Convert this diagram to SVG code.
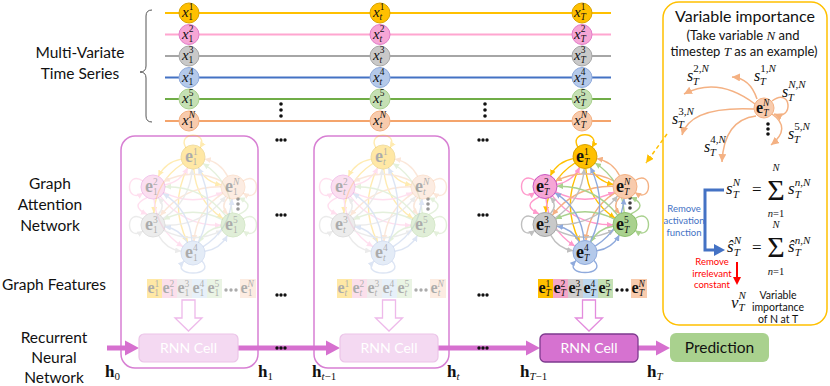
<svg xmlns="http://www.w3.org/2000/svg" xmlns:xlink="http://www.w3.org/1999/xlink" width="830" height="386" viewBox="0 0 830 386">
<style>
.t{font-family:Lato,"Liberation Sans",sans-serif;fill:#111}
.c{text-anchor:middle}
.mi{font-family:"Liberation Serif",serif;font-style:italic;fill:#111}
.mr{font-family:"Liberation Serif",serif;fill:#111}
.mb{font-family:"Liberation Serif",serif;font-weight:bold;fill:#111}
.up{font-style:normal}
.sp{font-size:9.5px}
.sq{font-size:11px}
.e{fill:none;stroke-width:1.4}
.eA{stroke:#FFC000;marker-end:url(#mA)}
.eB{stroke:#FF99CC;marker-end:url(#mB)}
.eC{stroke:#BFBFBF;marker-end:url(#mC)}
.eD{stroke:#8FAADC;marker-end:url(#mD)}
.eE{stroke:#A9D18E;marker-end:url(#mE)}
.eN{stroke:#F4B183;marker-end:url(#mN)}
.ts{fill:none;stroke-width:2}
.hol{fill:#fff;stroke:#E38CDD;stroke-width:1.3}
.mag{fill:#D670CF}
.frame{fill:none;stroke:#D77FD3;stroke-width:1.5}
.rnnf{fill:#F4D9F2;stroke:#EBC4E8;stroke-width:1.2}
.rnnw{font-family:Lato,"Liberation Sans",sans-serif;font-size:14px;fill:#fff;text-anchor:middle}
.dot{fill:#111}
</style>
<defs>
<marker id="mA" viewBox="0 0 6 6" refX="6" refY="3" markerWidth="6" markerHeight="6" markerUnits="userSpaceOnUse" orient="auto"><path d="M0,0L6,3L0,6z" fill="#FFC000"/></marker>
<marker id="mB" viewBox="0 0 6 6" refX="6" refY="3" markerWidth="6" markerHeight="6" markerUnits="userSpaceOnUse" orient="auto"><path d="M0,0L6,3L0,6z" fill="#FF99CC"/></marker>
<marker id="mC" viewBox="0 0 6 6" refX="6" refY="3" markerWidth="6" markerHeight="6" markerUnits="userSpaceOnUse" orient="auto"><path d="M0,0L6,3L0,6z" fill="#BFBFBF"/></marker>
<marker id="mD" viewBox="0 0 6 6" refX="6" refY="3" markerWidth="6" markerHeight="6" markerUnits="userSpaceOnUse" orient="auto"><path d="M0,0L6,3L0,6z" fill="#8FAADC"/></marker>
<marker id="mE" viewBox="0 0 6 6" refX="6" refY="3" markerWidth="6" markerHeight="6" markerUnits="userSpaceOnUse" orient="auto"><path d="M0,0L6,3L0,6z" fill="#A9D18E"/></marker>
<marker id="mN" viewBox="0 0 6 6" refX="6" refY="3" markerWidth="6" markerHeight="6" markerUnits="userSpaceOnUse" orient="auto"><path d="M0,0L6,3L0,6z" fill="#F4B183"/></marker>
<marker id="mV" viewBox="0 0 8 8" refX="8" refY="4" markerWidth="8" markerHeight="8" markerUnits="userSpaceOnUse" orient="auto"><path d="M0,0L8,4L0,8z" fill="#F4B183"/></marker>
<marker id="mY" viewBox="0 0 8 8" refX="8" refY="4" markerWidth="8" markerHeight="8" markerUnits="userSpaceOnUse" orient="auto"><path d="M0,0L8,4L0,8z" fill="#FFC000"/></marker>
<g id="gat">
<path class="e eA" d="M-11.8,-45.9Q-27.5,-43 -34.6,-28.7"/>
<path class="e eA" d="M5.4,-37.3Q12.5,-23 28.2,-20.1"/>
<path class="e eA" d="M-10.1,-41.5Q-37,-24 -39.2,8"/>
<path class="e eA" d="M0.8,-36Q3,-4 29.9,13.5"/>
<path class="e eA" d="M-5.4,-37.3Q-24,0 -5.4,37.3"/>
<path class="e eA" d="M-7,-57C-17,-74 17,-74 7,-57"/>
<path class="e eB" d="M-28.2,-20.1Q-12.5,-23 -5.4,-37.3"/>
<path class="e eB" d="M-29.3,-12.6Q0,2 29.3,-12.6"/>
<path class="e eB" d="M-46,-7.3Q-64,1 -46,9.3"/>
<path class="e eB" d="M-32.6,-8.6Q-9.5,21 28,20.3"/>
<path class="e eB" d="M-39,-6Q-36.5,25 -10.2,41.6"/>
<path class="e eB" d="M-50,-24C-68,-36 -68,0 -50,-12"/>
<path class="e eN" d="M34.6,-28.7Q27.5,-43 11.8,-45.9"/>
<path class="e eN" d="M29.3,-23.4Q0,-38 -29.3,-23.4"/>
<path class="e eN" d="M28,-18.3Q-9.5,-19 -32.6,10.6"/>
<path class="e eN" d="M34.6,-7.3Q27,1 34.6,9.3"/>
<path class="e eN" d="M29.9,-11.6Q3.5,5 1,36"/>
<path class="e eN" d="M50,-24C68,-36 68,0 50,-12"/>
<path class="e eC" d="M-29.9,13.5Q-3,-4 -0.8,-36"/>
<path class="e eC" d="M-34.6,9.3Q-27,1 -34.6,-7.3"/>
<path class="e eC" d="M-28,20.3Q9.5,21 32.6,-8.6"/>
<path class="e eC" d="M-29.3,25.4Q0,40 29.3,25.4"/>
<path class="e eC" d="M-34.3,30.6Q-27,44 -11.9,46.3"/>
<path class="e eC" d="M-50,14C-68,2 -68,38 -50,26"/>
<path class="e eE" d="M39.2,8Q37,-24 10.1,-41.5"/>
<path class="e eE" d="M32.6,10.6Q9.5,-19 -28,-18.3"/>
<path class="e eE" d="M46,9.3Q64,1 46,-7.3"/>
<path class="e eE" d="M29.3,14.6Q0,0 -29.3,14.6"/>
<path class="e eE" d="M28.1,21.8Q13,24 5.7,37.5"/>
<path class="e eE" d="M50,14C68,2 68,38 50,26"/>
<path class="e eD" d="M5.4,37.3Q24,0 5.4,-37.3"/>
<path class="e eD" d="M-1,36Q-3.5,5 -29.9,-11.6"/>
<path class="e eD" d="M10.2,41.6Q36.5,25 39,-6"/>
<path class="e eD" d="M-5.7,37.5Q-13,24 -28.1,21.8"/>
<path class="e eD" d="M11.9,46.3Q27,44 34.3,30.6"/>
<path class="e eD" d="M9,56C24,72 -24,72 -9,56"/>
</g>
</defs>
<rect width="830" height="386" fill="#fff"/>

<g id="frames">
<rect class="frame" x="121" y="136" width="137" height="232" rx="14"/>
<rect class="frame" x="314" y="136" width="135" height="232" rx="14"/>
<rect x="663" y="2" width="164" height="323" rx="16" fill="#fff" stroke="#FFC000" stroke-width="1.5"/>
<path d="M152,10Q146,10 146,16V66Q146,72 140,72Q146,72 146,78V116Q146,122 152,122" fill="none" stroke="#555" stroke-width="1"/>
</g>

<g id="connectors">
<line class="ts" x1="165" y1="13" x2="611" y2="13" stroke="#FFC000"/>
<line class="ts" x1="165" y1="34.5" x2="611" y2="34.5" stroke="#FFA6D0"/>
<line class="ts" x1="165" y1="56" x2="611" y2="56" stroke="#A6A6A6"/>
<line class="ts" x1="165" y1="77.5" x2="611" y2="77.5" stroke="#4472C4"/>
<line class="ts" x1="165" y1="99" x2="611" y2="99" stroke="#70AD47"/>
<line class="ts" x1="165" y1="121" x2="611" y2="121" stroke="#F4A46C"/>
<use href="#gat" x="193" y="205" opacity="0.3"/>
<use href="#gat" x="383" y="205" opacity="0.3"/>
<use href="#gat" x="585" y="204.5"/>
<g id="rnn-arrows">
<rect x="107" y="345.5" width="20" height="5" class="mag"/><polygon points="125,340.5 139,348 125,355.5" class="mag"/>
<rect x="238" y="345.5" width="89" height="5" class="mag"/><polygon points="326,340.5 340,348 326,355.5" class="mag"/>
<rect x="438" y="345.5" width="89" height="5" class="mag"/><polygon points="526,340.5 540,348 526,355.5" class="mag"/>
<rect x="638" y="345.5" width="19" height="5" class="mag"/><polygon points="656,340.5 670,348 656,355.5" class="mag"/>
</g>
<g id="hollow-arrows">
<path class="hol" opacity="0.6" d="M182,300H195V318H202L188.5,331L175,318H182Z"/>
<path class="hol" opacity="0.6" d="M382.5,300H395.5V318H402.5L389,331L375.5,318H382.5Z"/>
<path class="hol" d="M582.5,300H595.5V318H602.5L589,331L575.5,318H582.5Z"/>
</g>
<path d="M667,134L646,163" fill="none" stroke="#FFC000" stroke-width="1.5" stroke-dasharray="4,3" marker-end="url(#mY)"/>
<g id="vi-arrows" fill="none" stroke="#F4B183" stroke-width="1.5" marker-end="url(#mV)">
<path d="M757,99Q750,78 732,77"/>
<path d="M755,104Q718,76 684,94"/>
<path d="M754,109Q690,106 682,135"/>
<path d="M756,116Q724,120 722,162"/>
<path d="M772,114Q792,128 771,145"/>
<path d="M772,101C792,86 794,122 774,114"/>
</g>
<path d="M724,190H705V250H715" fill="none" stroke="#4472C4" stroke-width="3"/>
<polygon points="714,244 725,250 714,256" fill="#4472C4"/>
<line x1="737" y1="262" x2="737" y2="278" stroke="#FF0000" stroke-width="2"/>
<polygon points="733,277 737,285 741,277" fill="#FF0000"/>
</g>

<g id="ts-nodes">
<g id="x11"><circle cx="189" cy="13" r="10" fill="#FFC000" stroke="#D9A300"/><text class="mi" x="182" y="17" font-size="15">x<tspan class="sp up" dy="-7">1</tspan><tspan class="sp up" dx="-4.8" dy="10">1</tspan></text></g>
<g id="x21"><circle cx="189" cy="34.5" r="10" fill="#F6A6D6" stroke="#E27BC8"/><text class="mi" x="182" y="38.5" font-size="15">x<tspan class="sp up" dy="-7">2</tspan><tspan class="sp up" dx="-4.8" dy="10">1</tspan></text></g>
<g id="x31"><circle cx="189" cy="56" r="10" fill="#C9C9C9" stroke="#A6A6A6"/><text class="mi" x="182" y="60" font-size="15">x<tspan class="sp up" dy="-7">3</tspan><tspan class="sp up" dx="-4.8" dy="10">1</tspan></text></g>
<g id="x41"><circle cx="189" cy="77.5" r="10" fill="#B4C9EA" stroke="#8FAADC"/><text class="mi" x="182" y="81.5" font-size="15">x<tspan class="sp up" dy="-7">4</tspan><tspan class="sp up" dx="-4.8" dy="10">1</tspan></text></g>
<g id="x51"><circle cx="189" cy="99" r="10" fill="#C5E0B4" stroke="#A9D18E"/><text class="mi" x="182" y="103" font-size="15">x<tspan class="sp up" dy="-7">5</tspan><tspan class="sp up" dx="-4.8" dy="10">1</tspan></text></g>
<g id="xN1"><circle cx="189" cy="121" r="10" fill="#F8CBAD" stroke="#F4B183"/><text class="mi" x="182" y="125" font-size="15">x<tspan class="sp" dy="-7">N</tspan><tspan class="sp up" dx="-6.3" dy="10">1</tspan></text></g>

<g id="x1t"><circle cx="380" cy="13" r="10" fill="#FFC000" stroke="#D9A300"/><text class="mi" x="373" y="17" font-size="15">x<tspan class="sp up" dy="-7">1</tspan><tspan class="sp" dx="-4.8" dy="10">t</tspan></text></g>
<g id="x2t"><circle cx="380" cy="34.5" r="10" fill="#F6A6D6" stroke="#E27BC8"/><text class="mi" x="373" y="38.5" font-size="15">x<tspan class="sp up" dy="-7">2</tspan><tspan class="sp" dx="-4.8" dy="10">t</tspan></text></g>
<g id="x3t"><circle cx="380" cy="56" r="10" fill="#C9C9C9" stroke="#A6A6A6"/><text class="mi" x="373" y="60" font-size="15">x<tspan class="sp up" dy="-7">3</tspan><tspan class="sp" dx="-4.8" dy="10">t</tspan></text></g>
<g id="x4t"><circle cx="380" cy="77.5" r="10" fill="#B4C9EA" stroke="#8FAADC"/><text class="mi" x="373" y="81.5" font-size="15">x<tspan class="sp up" dy="-7">4</tspan><tspan class="sp" dx="-4.8" dy="10">t</tspan></text></g>
<g id="x5t"><circle cx="380" cy="99" r="10" fill="#C5E0B4" stroke="#A9D18E"/><text class="mi" x="373" y="103" font-size="15">x<tspan class="sp up" dy="-7">5</tspan><tspan class="sp" dx="-4.8" dy="10">t</tspan></text></g>
<g id="xNt"><circle cx="380" cy="121" r="10" fill="#F8CBAD" stroke="#F4B183"/><text class="mi" x="373" y="125" font-size="15">x<tspan class="sp" dy="-7">N</tspan><tspan class="sp" dx="-6.3" dy="10">t</tspan></text></g>

<g id="x1T"><circle cx="582" cy="13" r="10" fill="#FFC000" stroke="#D9A300"/><text class="mi" x="574" y="17" font-size="15">x<tspan class="sp up" dy="-7">1</tspan><tspan class="sp" dx="-4.8" dy="10">T</tspan></text></g>
<g id="x2T"><circle cx="582" cy="34.5" r="10" fill="#F6A6D6" stroke="#E27BC8"/><text class="mi" x="574" y="38.5" font-size="15">x<tspan class="sp up" dy="-7">2</tspan><tspan class="sp" dx="-4.8" dy="10">T</tspan></text></g>
<g id="x3T"><circle cx="582" cy="56" r="10" fill="#C9C9C9" stroke="#A6A6A6"/><text class="mi" x="574" y="60" font-size="15">x<tspan class="sp up" dy="-7">3</tspan><tspan class="sp" dx="-4.8" dy="10">T</tspan></text></g>
<g id="x4T"><circle cx="582" cy="77.5" r="10" fill="#B4C9EA" stroke="#8FAADC"/><text class="mi" x="574" y="81.5" font-size="15">x<tspan class="sp up" dy="-7">4</tspan><tspan class="sp" dx="-4.8" dy="10">T</tspan></text></g>
<g id="x5T"><circle cx="582" cy="99" r="10" fill="#C5E0B4" stroke="#A9D18E"/><text class="mi" x="574" y="103" font-size="15">x<tspan class="sp up" dy="-7">5</tspan><tspan class="sp" dx="-4.8" dy="10">T</tspan></text></g>
<g id="xNT"><circle cx="582" cy="121" r="10" fill="#F8CBAD" stroke="#F4B183"/><text class="mi" x="574" y="125" font-size="15">x<tspan class="sp" dy="-7">N</tspan><tspan class="sp" dx="-6.3" dy="10">T</tspan></text></g>
</g>

<g id="dots">
<circle class="dot" cx="281" cy="104" r="1.8"/><circle class="dot" cx="281" cy="110" r="1.8"/><circle class="dot" cx="281" cy="116" r="1.8"/>
<circle class="dot" cx="485" cy="104" r="1.8"/><circle class="dot" cx="485" cy="110" r="1.8"/><circle class="dot" cx="485" cy="116" r="1.8"/>
<circle class="dot" cx="277" cy="140" r="1.7"/><circle class="dot" cx="281" cy="140" r="1.7"/><circle class="dot" cx="285" cy="140" r="1.7"/>
<circle class="dot" cx="277" cy="215" r="1.7"/><circle class="dot" cx="281" cy="215" r="1.7"/><circle class="dot" cx="285" cy="215" r="1.7"/>
<circle class="dot" cx="277" cy="295" r="1.7"/><circle class="dot" cx="281" cy="295" r="1.7"/><circle class="dot" cx="285" cy="295" r="1.7"/>
<circle class="dot" cx="277" cy="348" r="1.7"/><circle class="dot" cx="281" cy="348" r="1.7"/><circle class="dot" cx="285" cy="348" r="1.7"/>
<circle class="dot" cx="479" cy="140" r="1.7"/><circle class="dot" cx="483" cy="140" r="1.7"/><circle class="dot" cx="487" cy="140" r="1.7"/>
<circle class="dot" cx="479" cy="215" r="1.7"/><circle class="dot" cx="483" cy="215" r="1.7"/><circle class="dot" cx="487" cy="215" r="1.7"/>
<circle class="dot" cx="479" cy="295" r="1.7"/><circle class="dot" cx="483" cy="295" r="1.7"/><circle class="dot" cx="487" cy="295" r="1.7"/>
<circle class="dot" cx="479" cy="348" r="1.7"/><circle class="dot" cx="483" cy="348" r="1.7"/><circle class="dot" cx="487" cy="348" r="1.7"/>
<g fill="#999"><circle cx="238" cy="199" r="1.8"/><circle cx="238" cy="204" r="1.8"/><circle cx="238" cy="209" r="1.8"/>
<circle cx="428" cy="199" r="1.8"/><circle cx="428" cy="204" r="1.8"/><circle cx="428" cy="209" r="1.8"/></g>
<g fill="#404040"><circle cx="630" cy="198" r="1.8"/><circle cx="630" cy="203" r="1.8"/><circle cx="630" cy="208" r="1.8"/></g>
</g>

<g id="gat1" opacity="0.35">
<g id="g1-1"><circle cx="193" cy="157" r="12" fill="#FFC000" stroke="#D9A300"/><text class="mb" x="185" y="162" font-size="18">e<tspan class="sp" font-weight="normal" dy="-7">1</tspan><tspan class="sp" font-weight="normal" dx="-4.8" dy="10">1</tspan></text></g>
<g id="g1-2"><circle cx="153" cy="187" r="12" fill="#F6A6D6" stroke="#D95FC8"/><text class="mb" x="145" y="192" font-size="18">e<tspan class="sp" font-weight="normal" dy="-7">2</tspan><tspan class="sp" font-weight="normal" dx="-4.8" dy="10">1</tspan></text></g>
<g id="g1-N"><circle cx="233" cy="187" r="12" fill="#F8CBAD" stroke="#F4B183"/><text class="mb" x="225" y="192" font-size="18">e<tspan class="sp mi" font-weight="normal" dy="-7">N</tspan><tspan class="sp" font-weight="normal" dx="-6.3" dy="10">1</tspan></text></g>
<g id="g1-3"><circle cx="153" cy="225" r="12" fill="#C9C9C9" stroke="#A6A6A6"/><text class="mb" x="145" y="230" font-size="18">e<tspan class="sp" font-weight="normal" dy="-7">3</tspan><tspan class="sp" font-weight="normal" dx="-4.8" dy="10">1</tspan></text></g>
<g id="g1-5"><circle cx="233" cy="225" r="12" fill="#A9D18E" stroke="#8CBF6C"/><text class="mb" x="225" y="230" font-size="18">e<tspan class="sp" font-weight="normal" dy="-7">5</tspan><tspan class="sp" font-weight="normal" dx="-4.8" dy="10">1</tspan></text></g>
<g id="g1-4"><circle cx="193" cy="253" r="12" fill="#B4C9EA" stroke="#8FAADC"/><text class="mb" x="185" y="258" font-size="18">e<tspan class="sp" font-weight="normal" dy="-7">4</tspan><tspan class="sp" font-weight="normal" dx="-4.8" dy="10">1</tspan></text></g>
</g>

<g id="gat2" opacity="0.35">
<g id="g2-1"><circle cx="383" cy="157" r="12" fill="#FFC000" stroke="#D9A300"/><text class="mb" x="375" y="162" font-size="18">e<tspan class="sp" font-weight="normal" dy="-7">1</tspan><tspan class="sp mi" font-weight="normal" dx="-4.8" dy="10">t</tspan></text></g>
<g id="g2-2"><circle cx="343" cy="187" r="12" fill="#F6A6D6" stroke="#D95FC8"/><text class="mb" x="335" y="192" font-size="18">e<tspan class="sp" font-weight="normal" dy="-7">2</tspan><tspan class="sp mi" font-weight="normal" dx="-4.8" dy="10">t</tspan></text></g>
<g id="g2-N"><circle cx="423" cy="187" r="12" fill="#F8CBAD" stroke="#F4B183"/><text class="mb" x="415" y="192" font-size="18">e<tspan class="sp mi" font-weight="normal" dy="-7">N</tspan><tspan class="sp mi" font-weight="normal" dx="-6.3" dy="10">t</tspan></text></g>
<g id="g2-3"><circle cx="343" cy="225" r="12" fill="#C9C9C9" stroke="#A6A6A6"/><text class="mb" x="335" y="230" font-size="18">e<tspan class="sp" font-weight="normal" dy="-7">3</tspan><tspan class="sp mi" font-weight="normal" dx="-4.8" dy="10">t</tspan></text></g>
<g id="g2-5"><circle cx="423" cy="225" r="12" fill="#A9D18E" stroke="#8CBF6C"/><text class="mb" x="415" y="230" font-size="18">e<tspan class="sp" font-weight="normal" dy="-7">5</tspan><tspan class="sp mi" font-weight="normal" dx="-4.8" dy="10">t</tspan></text></g>
<g id="g2-4"><circle cx="383" cy="253" r="12" fill="#B4C9EA" stroke="#8FAADC"/><text class="mb" x="375" y="258" font-size="18">e<tspan class="sp" font-weight="normal" dy="-7">4</tspan><tspan class="sp mi" font-weight="normal" dx="-4.8" dy="10">t</tspan></text></g>
</g>

<g id="gat3">
<g id="g3-1"><circle cx="585" cy="156.5" r="12" fill="#FFC000" stroke="#D9A300"/><text class="mb" x="576" y="161.5" font-size="18">e<tspan class="sp" font-weight="normal" dy="-7">1</tspan><tspan class="sp mi" font-weight="normal" dx="-4.8" dy="10">T</tspan></text></g>
<g id="g3-2"><circle cx="545" cy="186.5" r="12" fill="#F6A6D6" stroke="#C955C0"/><text class="mb" x="536" y="191.5" font-size="18">e<tspan class="sp" font-weight="normal" dy="-7">2</tspan><tspan class="sp mi" font-weight="normal" dx="-4.8" dy="10">T</tspan></text></g>
<g id="g3-N"><circle cx="625" cy="186.5" r="12" fill="#F8CBAD" stroke="#F4B183"/><text class="mb" x="616" y="191.5" font-size="18">e<tspan class="sp mi" font-weight="normal" dy="-7">N</tspan><tspan class="sp mi" font-weight="normal" dx="-6.3" dy="10">T</tspan></text></g>
<g id="g3-3"><circle cx="545" cy="224.5" r="12" fill="#C9C9C9" stroke="#A6A6A6"/><text class="mb" x="536" y="229.5" font-size="18">e<tspan class="sp" font-weight="normal" dy="-7">3</tspan><tspan class="sp mi" font-weight="normal" dx="-4.8" dy="10">T</tspan></text></g>
<g id="g3-5"><circle cx="625" cy="224.5" r="12" fill="#A9D18E" stroke="#8CBF6C"/><text class="mb" x="616" y="229.5" font-size="18">e<tspan class="sp" font-weight="normal" dy="-7">5</tspan><tspan class="sp mi" font-weight="normal" dx="-4.8" dy="10">T</tspan></text></g>
<g id="g3-4"><circle cx="585" cy="252.5" r="12" fill="#B4C9EA" stroke="#8FAADC"/><text class="mb" x="576" y="257.5" font-size="18">e<tspan class="sp" font-weight="normal" dy="-7">4</tspan><tspan class="sp mi" font-weight="normal" dx="-4.8" dy="10">T</tspan></text></g>
</g>

<g id="feat1" opacity="0.35">
<rect x="147" y="279" width="15" height="19" fill="#FFC000"/><rect x="162" y="279" width="15" height="19" fill="#F4A6C8"/><rect x="177" y="279" width="15" height="19" fill="#D0CECE"/><rect x="192" y="279" width="15" height="19" fill="#BDD7EE"/><rect x="207" y="279" width="15" height="19" fill="#C5E0B4"/><rect x="240" y="279" width="16" height="19" fill="#F8CBAD"/>
<text class="mb" y="293" font-size="16"><tspan x="147.5">e</tspan><tspan class="sp" font-weight="normal" dy="-6">1</tspan><tspan class="sp" font-weight="normal" dx="-4.8" dy="9">1</tspan><tspan x="162.5" dy="-3">e</tspan><tspan class="sp" font-weight="normal" dy="-6">2</tspan><tspan class="sp" font-weight="normal" dx="-4.8" dy="9">1</tspan><tspan x="177.5" dy="-3">e</tspan><tspan class="sp" font-weight="normal" dy="-6">3</tspan><tspan class="sp" font-weight="normal" dx="-4.8" dy="9">1</tspan><tspan x="192.5" dy="-3">e</tspan><tspan class="sp" font-weight="normal" dy="-6">4</tspan><tspan class="sp" font-weight="normal" dx="-4.8" dy="9">1</tspan><tspan x="207.5" dy="-3">e</tspan><tspan class="sp" font-weight="normal" dy="-6">5</tspan><tspan class="sp" font-weight="normal" dx="-4.8" dy="9">1</tspan><tspan x="240.5" dy="-3">e</tspan><tspan class="sp mi" font-weight="normal" dy="-6">N</tspan><tspan class="sp" font-weight="normal" dx="-6.3" dy="9">1</tspan></text>
<circle cx="226" cy="290" r="1.7" fill="#111"/><circle cx="231" cy="290" r="1.7" fill="#111"/><circle cx="236" cy="290" r="1.7" fill="#111"/>
</g>
<g id="feat2" opacity="0.35">
<rect x="337" y="279" width="15" height="19" fill="#FFC000"/><rect x="352" y="279" width="15" height="19" fill="#F4A6C8"/><rect x="367" y="279" width="15" height="19" fill="#D0CECE"/><rect x="382" y="279" width="15" height="19" fill="#BDD7EE"/><rect x="397" y="279" width="15" height="19" fill="#C5E0B4"/><rect x="430" y="279" width="16" height="19" fill="#F8CBAD"/>
<text class="mb" y="293" font-size="16"><tspan x="337.5">e</tspan><tspan class="sp" font-weight="normal" dy="-6">1</tspan><tspan class="sp mi" font-weight="normal" dx="-4.8" dy="9">t</tspan><tspan x="352.5" dy="-3">e</tspan><tspan class="sp" font-weight="normal" dy="-6">2</tspan><tspan class="sp mi" font-weight="normal" dx="-4.8" dy="9">t</tspan><tspan x="367.5" dy="-3">e</tspan><tspan class="sp" font-weight="normal" dy="-6">3</tspan><tspan class="sp mi" font-weight="normal" dx="-4.8" dy="9">t</tspan><tspan x="382.5" dy="-3">e</tspan><tspan class="sp" font-weight="normal" dy="-6">4</tspan><tspan class="sp mi" font-weight="normal" dx="-4.8" dy="9">t</tspan><tspan x="397.5" dy="-3">e</tspan><tspan class="sp" font-weight="normal" dy="-6">5</tspan><tspan class="sp mi" font-weight="normal" dx="-4.8" dy="9">t</tspan><tspan x="430.5" dy="-3">e</tspan><tspan class="sp mi" font-weight="normal" dy="-6">N</tspan><tspan class="sp mi" font-weight="normal" dx="-6.3" dy="9">t</tspan></text>
<circle cx="416" cy="290" r="1.7" fill="#111"/><circle cx="421" cy="290" r="1.7" fill="#111"/><circle cx="426" cy="290" r="1.7" fill="#111"/>
</g>
<g id="feat3">
<rect x="538" y="279" width="15" height="19" fill="#FFC000"/><rect x="553" y="279" width="15" height="19" fill="#F4A6C8"/><rect x="568" y="279" width="15" height="19" fill="#D0CECE"/><rect x="583" y="279" width="15" height="19" fill="#BDD7EE"/><rect x="598" y="279" width="15" height="19" fill="#C5E0B4"/><rect x="631" y="279" width="16" height="19" fill="#F8CBAD"/>
<text class="mb" y="293" font-size="16"><tspan x="538.5">e</tspan><tspan class="sp" font-weight="normal" dy="-6">1</tspan><tspan class="sp mi" font-weight="normal" dx="-4.8" dy="9">T</tspan><tspan x="553.5" dy="-3">e</tspan><tspan class="sp" font-weight="normal" dy="-6">2</tspan><tspan class="sp mi" font-weight="normal" dx="-4.8" dy="9">T</tspan><tspan x="568.5" dy="-3">e</tspan><tspan class="sp" font-weight="normal" dy="-6">3</tspan><tspan class="sp mi" font-weight="normal" dx="-4.8" dy="9">T</tspan><tspan x="583.5" dy="-3">e</tspan><tspan class="sp" font-weight="normal" dy="-6">4</tspan><tspan class="sp mi" font-weight="normal" dx="-4.8" dy="9">T</tspan><tspan x="598.5" dy="-3">e</tspan><tspan class="sp" font-weight="normal" dy="-6">5</tspan><tspan class="sp mi" font-weight="normal" dx="-4.8" dy="9">T</tspan><tspan x="631.5" dy="-3">e</tspan><tspan class="sp mi" font-weight="normal" dy="-6">N</tspan><tspan class="sp mi" font-weight="normal" dx="-6.3" dy="9">T</tspan></text>
<circle cx="617" cy="290" r="1.7" fill="#111"/><circle cx="622" cy="290" r="1.7" fill="#111"/><circle cx="627" cy="290" r="1.7" fill="#111"/>
</g>

<g id="rnn1"><rect class="rnnf" x="139" y="334" width="99" height="28" rx="5"/><text class="rnnw" x="188.5" y="353">RNN Cell</text></g>
<g id="rnn2"><rect class="rnnf" x="340" y="334" width="98" height="28" rx="5"/><text class="rnnw" x="389" y="353">RNN Cell</text></g>
<g id="rnn3"><rect x="540" y="334" width="98" height="28" rx="5" fill="#D672D0" stroke="#7E3A8E" stroke-width="1.3"/><text class="rnnw" x="589" y="353">RNN Cell</text></g>
<g id="prediction"><rect x="670" y="333" width="99" height="29" rx="6" fill="#A9D18E"/><text class="t c" x="719.5" y="353" font-size="15.5">Prediction</text></g>

<g id="h-labels" font-size="17">
<text class="mb" x="105" y="377">h<tspan class="mr" font-size="11" font-weight="normal" dy="3">0</tspan></text>
<text class="mb" x="258" y="377">h<tspan class="mr" font-size="11" font-weight="normal" dy="3">1</tspan></text>
<text class="mb" x="312" y="377">h<tspan class="mi" font-size="11" font-weight="normal" dy="3">t</tspan><tspan class="mr" font-size="11" font-weight="normal">−1</tspan></text>
<text class="mb" x="447" y="377">h<tspan class="mi" font-size="11" font-weight="normal" dy="3">t</tspan></text>
<text class="mb" x="520" y="377">h<tspan class="mi" font-size="11" font-weight="normal" dy="3">T</tspan><tspan class="mr" font-size="11" font-weight="normal">−1</tspan></text>
<text class="mb" x="647" y="377">h<tspan class="mi" font-size="11" font-weight="normal" dy="3">T</tspan></text>
</g>

<g id="row-labels" class="t c" font-size="15.5">
<text class="t c" x="80" y="58">Multi-Variate</text>
<text class="t c" x="80" y="79">Time Series</text>
<text class="t c" x="50" y="189">Graph</text>
<text class="t c" x="50" y="210">Attention</text>
<text class="t c" x="50" y="231">Network</text>
<text class="t c" x="54" y="290">Graph Features</text>
<text class="t c" x="54" y="343">Recurrent</text>
<text class="t c" x="54" y="363">Neural</text>
<text class="t c" x="54" y="383">Network</text>
</g>

<g id="variable-importance">
<text class="t c" x="745" y="22" font-size="16">Variable importance</text>
<text class="t c" x="743" y="40" font-size="13">(Take variable <tspan class="mi">N</tspan> and</text>
<text class="t c" x="744" y="56" font-size="13">timestep <tspan class="mi">T</tspan> as an example)</text>
<g id="vi-node"><circle cx="764" cy="108" r="10" fill="#F8CBAD" stroke="#F4B183"/><text class="mb" x="756" y="113" font-size="16">e<tspan class="sp mi" font-weight="normal" dy="-7">N</tspan><tspan class="sp mi" font-weight="normal" dx="-6.3" dy="10">T</tspan></text></g>
<g class="mi" font-size="16">
<text x="754" y="81">s<tspan class="sq up" dy="-9">1,</tspan><tspan class="sq">N</tspan><tspan class="sq" dx="-16" dy="13">T</tspan></text>
<text x="687" y="81">s<tspan class="sq up" dy="-9">2,</tspan><tspan class="sq">N</tspan><tspan class="sq" dx="-16" dy="13">T</tspan></text>
<text x="782" y="97">s<tspan class="sq" dy="-9">N,N</tspan><tspan class="sq" dx="-18" dy="13">T</tspan></text>
<text x="672" y="124">s<tspan class="sq up" dy="-9">3,</tspan><tspan class="sq">N</tspan><tspan class="sq" dx="-16" dy="13">T</tspan></text>
<text x="704" y="152">s<tspan class="sq up" dy="-9">4,</tspan><tspan class="sq">N</tspan><tspan class="sq" dx="-16" dy="13">T</tspan></text>
<text x="788" y="139">s<tspan class="sq up" dy="-9">5,</tspan><tspan class="sq">N</tspan><tspan class="sq" dx="-16" dy="13">T</tspan></text>
</g>
<g fill="#111"><circle cx="768" cy="124" r="1.8"/><circle cx="768" cy="129" r="1.8"/><circle cx="768" cy="134" r="1.8"/></g>
<text class="mi" x="726" y="194" font-size="17">s<tspan class="sq" dy="-8">N</tspan><tspan class="sq" dx="-7.3" dy="12">T</tspan></text>
<text class="mr" x="752" y="195" font-size="17">=</text>
<text class="mr c" x="776" y="200" font-size="30">Σ</text>
<text class="mi c" x="776" y="171" font-size="10.5">N</text>
<text class="mi c" x="776" y="217" font-size="10.5">n<tspan class="up">=1</tspan></text>
<text class="mi" x="788" y="194" font-size="17">s<tspan class="sq" dy="-8">n</tspan><tspan class="sq up">,</tspan><tspan class="sq">N</tspan><tspan class="sq" dx="-15.5" dy="12">T</tspan></text>
<text class="mi" x="727" y="252" font-size="17">ŝ<tspan class="sq" dy="-8">N</tspan><tspan class="sq" dx="-7.3" dy="12">T</tspan></text>
<text class="mr" x="752" y="253" font-size="17">=</text>
<text class="mr c" x="776" y="257" font-size="30">Σ</text>
<text class="mi c" x="776" y="228" font-size="10.5">N</text>
<text class="mi c" x="776" y="275" font-size="10.5">n<tspan class="up">=1</tspan></text>
<text class="mi" x="788" y="252" font-size="17">ŝ<tspan class="sq" dy="-8">n</tspan><tspan class="sq up">,</tspan><tspan class="sq">N</tspan><tspan class="sq" dx="-15.5" dy="12">T</tspan></text>
<g font-family="Lato,'Liberation Sans',sans-serif" font-size="9.5" fill="#4472C4" text-anchor="middle">
<text x="684" y="212">Remove</text><text x="684" y="224">activation</text><text x="684" y="236">function</text>
</g>
<g font-family="Lato,'Liberation Sans',sans-serif" font-size="9.5" fill="#FF0000" text-anchor="middle">
<text x="712" y="265">Remove</text><text x="712" y="277">irrelevant</text><text x="712" y="288">constant</text>
</g>
<text class="mi" x="731" y="308" font-size="17">v<tspan class="sq" dy="-9">N</tspan><tspan class="sq" dx="-7.3" dy="12">T</tspan></text>
<g class="t" font-size="10.5" text-anchor="middle">
<text x="778" y="299">Variable</text><text x="778" y="311">importance</text><text x="778" y="323">of N at T</text>
</g>
</g>
</svg>
